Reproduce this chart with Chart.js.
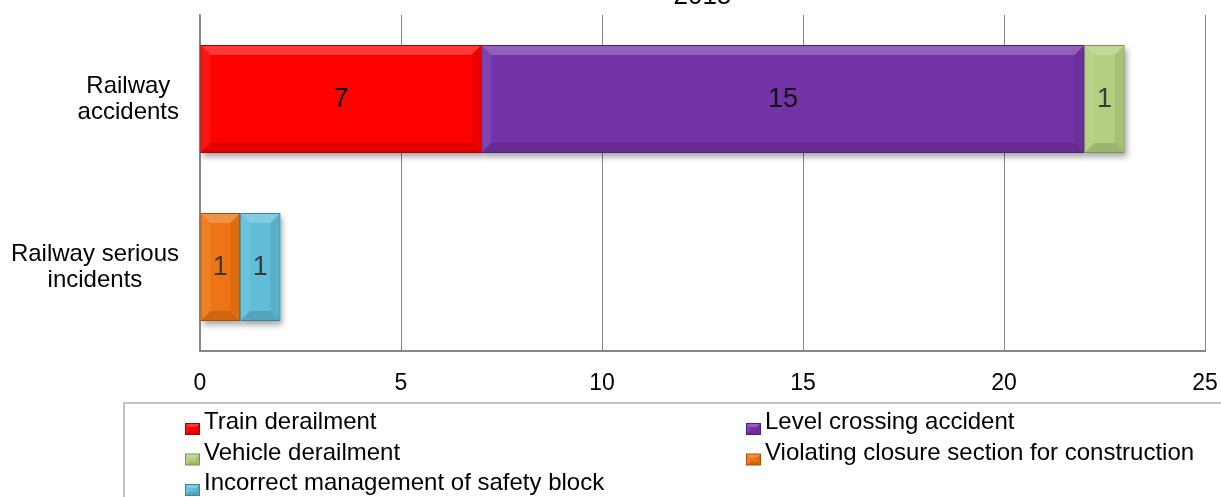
<!DOCTYPE html>
<html>
<head>
<meta charset="utf-8">
<title>Railway accidents and serious incidents 2015</title>
<script src="https://cdn.jsdelivr.net/npm/chart.js@4.4.1/dist/chart.umd.min.js"></script>
<style>
    html, body { margin: 0; padding: 0; background: #fff; }
    #wrap { position: relative; width: 1221px; height: 497px; overflow: hidden; }
</style>
</head>
<body>
<div id="wrap"><canvas id="accidentChart"></canvas></div>
<script>
// Chart data
const chartTitle = '2015';
const categories = [['Railway', 'accidents'], ['Railway serious', 'incidents']];
const seriesNames = [
    'Train derailment',
    'Level crossing accident',
    'Vehicle derailment',
    'Violating closure section for construction',
    'Incorrect management of safety block'
];
const trainDerailment = [7, null];
const levelCrossing = [15, null];
const vehicleDerailment = [1, null];
const closureViolation = [null, 1];
const safetyBlock = [null, 1];
const xMin = 0;
const xMax = 25;
const xStep = 5;

// Colours per series: fill, edge, label
const fills = ['#FF0000', '#7434A8', '#B3CF7F', '#EE7513', '#61BDD8'];
const edges = ['#A30000', '#4E2274', '#7E9152', '#A5500C', '#3E8399'];
const labelColors = ['#000000', '#111111', '#3a3a3a', '#3a3a3a', '#3a3a3a'];

const FONT = '"Liberation Sans", Arial, sans-serif';
const seriesValues = [trainDerailment, levelCrossing, vehicleDerailment, closureViolation, safetyBlock];

function barRect(el) {
    const p = el.getProps(['x', 'y', 'base', 'height'], true);
    return {
        L: Math.min(p.x, p.base), R: Math.max(p.x, p.base),
        T: p.y - p.height / 2, B: p.y + p.height / 2
    };
}

function poly(ctx, pts, fill) {
    ctx.beginPath();
    ctx.moveTo(pts[0][0], pts[0][1]);
    for (let i = 1; i < pts.length; i++) ctx.lineTo(pts[i][0], pts[i][1]);
    ctx.closePath();
    ctx.fillStyle = fill;
    ctx.fill();
}

// bevelled edges like the office "angle" bar style
function drawBevel(ctx, r, b) {
    const { L, R, T, B } = r;
    poly(ctx, [[L, T], [R, T], [R - b, T + b], [L + b, T + b]], 'rgba(255,255,255,0.22)');
    poly(ctx, [[L, T], [L + b, T + b], [L + b, B - b], [L, B]], 'rgba(255,255,255,0.08)');
    poly(ctx, [[L, B], [L + b, B - b], [R - b, B - b], [R, B]], 'rgba(0,0,0,0.13)');
    poly(ctx, [[R, T], [R - b, T + b], [R - b, B - b], [R, B]], 'rgba(0,0,0,0.07)');
}

const barStylePlugin = {
    id: 'barStyle',
    beforeDatasetsDraw(chart) {
        const ctx = chart.ctx;
        ctx.save();
        ctx.shadowColor = 'rgba(0,0,0,0.35)';
        ctx.shadowBlur = 6;
        ctx.shadowOffsetX = 2;
        ctx.shadowOffsetY = 4;
        chart.getSortedVisibleDatasetMetas().forEach(meta => {
            meta.data.forEach((el, i) => {
                if (chart.data.datasets[meta.index].data[i] == null) return;
                const r = barRect(el);
                ctx.fillStyle = fills[meta.index];
                ctx.fillRect(r.L, r.T, r.R - r.L, r.B - r.T);
            });
        });
        ctx.restore();
    },
    afterDatasetsDraw(chart) {
        const ctx = chart.ctx;
        ctx.save();
        chart.getSortedVisibleDatasetMetas().forEach(meta => {
            meta.data.forEach((el, i) => {
                const v = chart.data.datasets[meta.index].data[i];
                if (v == null) return;
                const r = barRect(el);
                drawBevel(ctx, { L: r.L + 1, R: r.R - 1, T: r.T + 1, B: r.B - 1 }, 9);
                ctx.font = '27px ' + FONT;
                ctx.fillStyle = labelColors[meta.index];
                ctx.textAlign = 'center';
                ctx.textBaseline = 'middle';
                ctx.fillText(String(v), (r.L + r.R) / 2, (r.T + r.B) / 2 + 1);
            });
        });
        ctx.restore();
    }
};

// category labels: each block right-aligned, lines centred inside it
const categoryLabelPlugin = {
    id: 'categoryLabels',
    afterDraw(chart) {
        const ctx = chart.ctx;
        const yScale = chart.scales.y;
        const right = chart.chartArea.left - 21;
        ctx.save();
        ctx.font = '24px ' + FONT;
        ctx.fillStyle = '#000';
        ctx.textAlign = 'center';
        ctx.textBaseline = 'middle';
        categories.forEach((lines, i) => {
            const cy = yScale.getPixelForValue(i);
            const widest = Math.max(...lines.map(t => ctx.measureText(t).width));
            const cx = right - widest / 2;
            const lh = 26;
            lines.forEach((t, j) => {
                ctx.fillText(t, cx, cy + (j - (lines.length - 1) / 2) * lh);
            });
        });
        // title sits above the plot, mostly clipped by the page edge
        ctx.font = '26px ' + FONT;
        ctx.textBaseline = 'alphabetic';
        ctx.fillText(chartTitle, (chart.chartArea.left + chart.chartArea.right) / 2, 4);
        ctx.restore();
    }
};

// boxed two-column legend below the axis
const boxLegendPlugin = {
    id: 'boxLegend',
    afterDraw(chart) {
        const ctx = chart.ctx;
        const cols = [185, 746];
        const rows = [429, 459.5, 490];
        ctx.save();
        ctx.strokeStyle = '#c4c4c4';
        ctx.lineWidth = 2;
        ctx.strokeRect(124, 403, 1130, 200);
        ctx.font = '24px ' + FONT;
        ctx.textAlign = 'left';
        ctx.textBaseline = 'alphabetic';
        chart.data.datasets.forEach((ds, i) => {
            const x = cols[i % 2];
            const base = rows[Math.floor(i / 2)];
            const r = { L: x, R: x + 15, T: base - 6, B: base + 6 };
            ctx.fillStyle = edges[i];
            ctx.fillRect(r.L, r.T, r.R - r.L, r.B - r.T);
            ctx.fillStyle = fills[i];
            ctx.fillRect(r.L + 1, r.T + 1, r.R - r.L - 2, r.B - r.T - 2);
            drawBevel(ctx, { L: r.L + 1, R: r.R - 1, T: r.T + 1, B: r.B - 1 }, 3);
            ctx.fillStyle = '#000';
            ctx.fillText(ds.label, x + 19, base);
        });
        ctx.restore();
    }
};

const datasets = seriesNames.map((name, i) => ({
    label: name,
    data: seriesValues[i],
    backgroundColor: fills[i],
    borderColor: edges[i],
    borderWidth: 1,
    borderSkipped: false,
    categoryPercentage: 1,
    barPercentage: 0.643
}));

new Chart(document.getElementById('accidentChart'), {
    type: 'bar',
    data: { labels: categories, datasets },
    options: {
        indexAxis: 'y',
        responsive: true,
        maintainAspectRatio: false,
        animation: false,
        layout: { padding: { top: 15, right: 16, bottom: 0, left: 0 } },
        plugins: {
            legend: { display: false },
            tooltip: { enabled: false },
            title: { display: false }
        },
        scales: {
            x: {
                stacked: true,
                min: xMin,
                max: xMax,
                ticks: {
                    stepSize: xStep,
                    padding: 19,
                    color: '#000',
                    font: { family: FONT, size: 23 }
                },
                grid: { color: '#888888', lineWidth: 1, drawTicks: false },
                border: { color: '#888888', width: 2 },
                afterFit: s => {
                    s.height = 146;
                    // the "25" label may overhang the right padding
                    s.paddingLeft = 0;
                    s.paddingRight = 0;
                }
            },
            y: {
                stacked: true,
                ticks: { display: false },
                grid: { display: false, drawTicks: false },
                border: { color: '#888888', width: 1.5 },
                afterFit: s => { s.width = 200; }
            }
        }
    },
    plugins: [barStylePlugin, categoryLabelPlugin, boxLegendPlugin]
});
</script>
</body>
</html>
